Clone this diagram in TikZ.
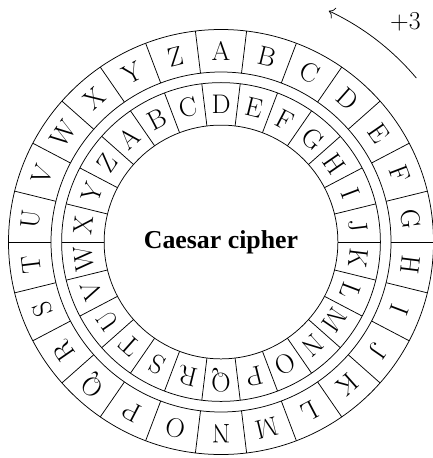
\documentclass[tikz,border=0pt]{standalone}
\usepackage{fontspec}
\newfontfamily\titlefont{Liberation Serif}
\usetikzlibrary{calc,arrows.meta}
\tikzset{
ringline/.style={draw=black,line width=0.5pt},
letter/.style={font=\fontsize{18}{21}\selectfont,inner sep=0pt},
titletext/.style={font=\titlefont\bfseries\LARGE},
shiftarrow/.style={-{To[scale=1.4]},line width=0.5pt},
shiftlabel/.style={font=\LARGE}
}
\newcommand{\sector}{360/26}

\begin{document}
\begin{tikzpicture}
\useasboundingbox (-5.2,-5.082) rectangle (4.965,5.694);
% the two discs
\draw[ringline] (0,0) circle (5) (0,0) circle (4);
\draw[ringline] (0,0) circle (3.75) (0,0) circle (2.75);
\foreach \k in {0,...,25} {
  \draw[ringline] (90+\sector/2+\k*\sector:4) -- (90+\sector/2+\k*\sector:5);
  \draw[ringline] (90+\sector/2+\k*\sector:2.75) -- (90+\sector/2+\k*\sector:3.75);
}
% plain and shifted alphabets
\foreach \ltr [count=\i from 0] in {A,B,C,D,E,F,G,H,I,J,K,L,M,N,O,P,Q,R,S,T,U,V,W,X,Y,Z} {
  \node[letter,rotate={-\i*\sector}] (out-\ltr) at ({90-\i*\sector}:4.5) {\ltr};
  \node[letter,rotate={-(\i-3)*\sector}] (in-\ltr) at ({90-(\i-3)*\sector}:3.25) {\ltr};
}
\node[titletext] (caesar) at (0,0) {Caesar cipher};
\coordinate (shiftstart) at (40:6);
\draw[shiftarrow] (shiftstart) arc[start angle=40,end angle=65,radius=6];
\node[shiftlabel] (shift) at (50:6.75) {$+3$};
\end{tikzpicture}
\end{document}
